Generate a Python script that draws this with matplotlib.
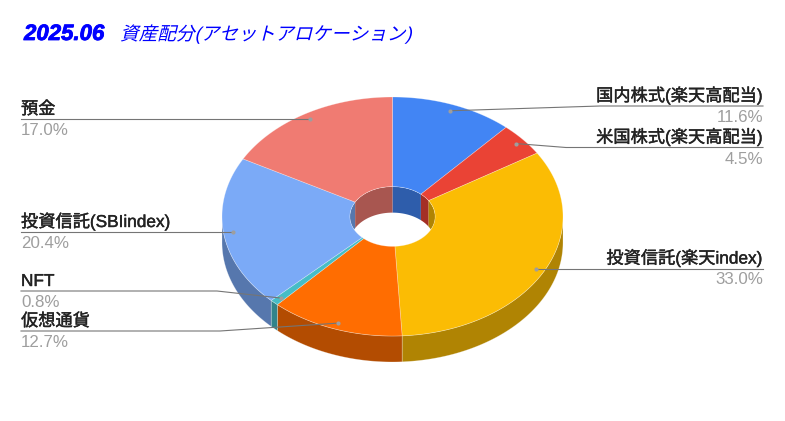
import numpy as np
import matplotlib
matplotlib.use('Agg')
import matplotlib.pyplot as plt
from matplotlib.patches import Polygon, Ellipse
from matplotlib.patheffects import AbstractPathEffect, withStroke
from matplotlib.transforms import Affine2D

# Data
names = ['国内株式(楽天高配当)', '米国株式(楽天高配当)', '投資信託(楽天index)', '仮想通貨',
         'NFT', '投資信託(SBIindex)', '預金']
values = [11.6, 4.5, 33.0, 12.7, 0.8, 20.4, 17.0]
colors = ['#4285F4', '#EA4335', '#FBBC04', '#FF6D01', '#46BDC6', '#7BAAF7', '#F07B72']

# Layout, in pixels of the 785x421 canvas
cx, cy = 392.5, 216.5
rx, ry = 170.5, 119.5
hole = 0.25
depth = 26
label_x = [763, 763, 763, 21, 21, 21, 21]
line_y = [106, 147.5, 268.5, 331, 291, 232, 119]
elbow_x = [600, 566, None, 220, 217, None, None]

plt.rcParams['font.family'] = ['Liberation Sans', 'Noto Sans CJK JP']


class Slant(AbstractPathEffect):
    # the Japanese part of the title is a faked italic, no such font here
    def draw_path(self, renderer, gc, tpath, affine, rgbFace=None):
        renderer.draw_path(gc, tpath, Affine2D().skew_deg(14, 0) + affine, rgbFace)


def arc(a0, a1, k=1.0, dy=0.0):
    # angles in degrees, clockwise from the top
    t = np.radians(np.linspace(a0, a1, max(int(abs(a1 - a0)) * 2, 2)))
    return np.column_stack([cx + k * rx * np.sin(t), cy - k * ry * np.cos(t) + dy])


def shade(c, f=0.7):
    return tuple(v * f for v in matplotlib.colors.to_rgb(c))


fig = plt.figure(figsize=(7.85, 4.21), dpi=100)
ax = fig.add_axes([0, 0, 1, 1])
ax.set_xlim(0, 785)
ax.set_ylim(421, 0)
ax.axis('off')

edges = np.concatenate([[0], np.cumsum(values)]) / sum(values) * 360
seam = (1, 1, 1, 0.35)

# Inner wall, only the back half shows through the hole
clip = Ellipse((cx, cy), 2 * hole * rx, 2 * hole * ry, transform=ax.transData)
for i, c in enumerate(colors):
    for lo, hi in [(-90, 90), (270, 450)]:
        a0, a1 = max(edges[i], lo), min(edges[i + 1], hi)
        if a1 > a0:
            pts = np.vstack([arc(a0, a1, hole), arc(a0, a1, hole, depth)[::-1]])
            p = Polygon(pts, facecolor=shade(c), edgecolor='none', zorder=1)
            ax.add_patch(p)
            p.set_clip_path(clip)

# Outer wall, front half
for i, c in enumerate(colors):
    a0, a1 = max(edges[i], 90), min(edges[i + 1], 270)
    if a1 > a0:
        pts = np.vstack([arc(a0, a1), arc(a0, a1, 1.0, depth)[::-1]])
        ax.add_patch(Polygon(pts, facecolor=shade(c), edgecolor=seam, linewidth=0.5, zorder=2))

# Top faces
for i, c in enumerate(colors):
    pts = np.vstack([arc(edges[i], edges[i + 1]), arc(edges[i], edges[i + 1], hole)[::-1]])
    ax.add_patch(Polygon(pts, facecolor=c, edgecolor=seam, linewidth=0.5, zorder=3))

# Leaders and labels
for i, name in enumerate(names):
    mid = (edges[i] + edges[i + 1]) / 2
    t = np.radians(mid)
    dot = (cx + 0.947 * rx * np.sin(t), cy - 0.947 * ry * np.cos(t))
    xs, ys = [dot[0]], [dot[1]]
    if elbow_x[i] is not None:
        xs.append(elbow_x[i])
        ys.append(line_y[i])
    else:
        ys[0] = line_y[i]
    xs.append(label_x[i])
    ys.append(line_y[i])
    ax.plot(xs, ys, color='#757575', linewidth=0.8, zorder=4)
    ax.plot(dot[0], dot[1], 'o', color='#9e9e9e', markersize=3, markeredgewidth=0, zorder=5)
    ha = 'right' if label_x[i] > cx else 'left'
    # a hair of stroke, the reference labels are heavier than regular weight
    ax.text(label_x[i], line_y[i] - 5, name, ha=ha, va='baseline', fontsize=12.4, color='#222222', zorder=6,
            path_effects=[withStroke(linewidth=0.3, foreground='#222222')])
    ax.text(label_x[i], line_y[i] + 16, f'{values[i]:.1f}%', ha=ha, va='baseline', fontsize=12.2,
            color='#9e9e9e', zorder=6)

# Title
ax.text(24, 40, '2025.06', fontsize=16, color='#0000ff', fontweight='bold', fontstyle='italic', va='baseline',
        path_effects=[withStroke(linewidth=0.6, foreground='#0000ff')])
ax.text(120, 40, '資産配分(アセットアロケーション)', fontsize=13.4, color='#0000ff', va='baseline',
        path_effects=[Slant()])

fig.savefig('out.png', dpi=100, facecolor='white')
